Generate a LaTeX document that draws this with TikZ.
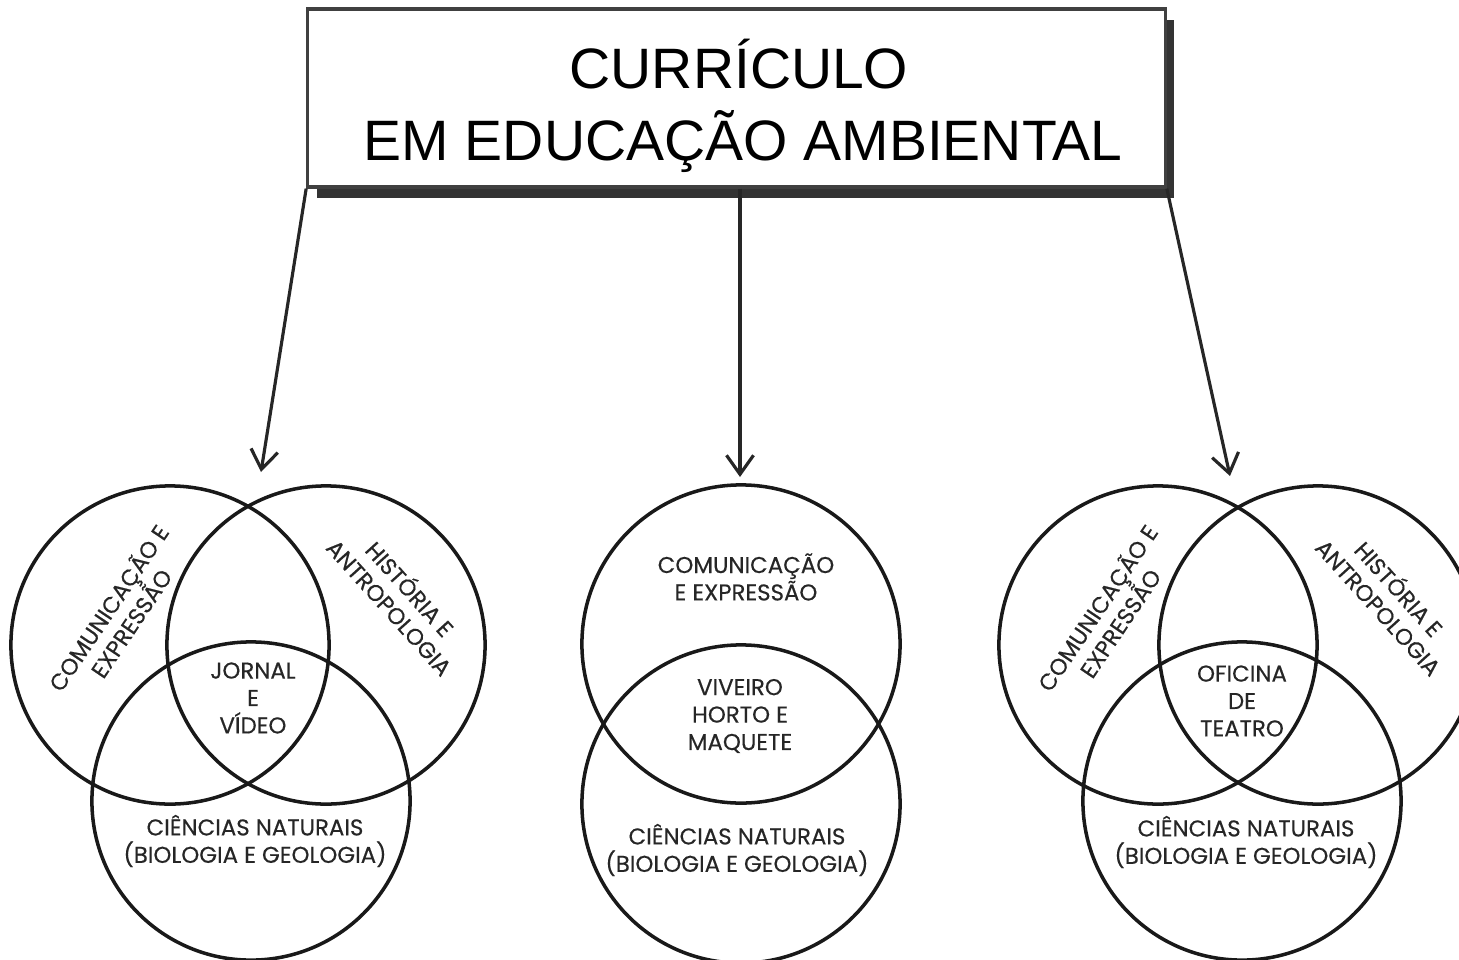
\documentclass[tikz,border=0pt]{standalone}
\usepackage{fontspec}
\setmainfont{Liberation Sans}
\newfontfamily\vennfont{Poppins}[FakeBold=0.4]
\usetikzlibrary{arrows.meta,shadows}

\begin{document}
\begin{tikzpicture}[x=0.01cm,y=-0.01cm,
        titulo/.style={draw=black!75,line width=0.9pt,fill=white,minimum width=8.57cm,minimum height=1.78cm,
            drop shadow={shadow xshift=0.09cm,shadow yshift=-0.11cm,fill=black!80,opacity=1}},
        conjunto/.style={circle,draw=black!90,line width=1pt,minimum size=3.18cm,inner sep=0pt},
        rotulo/.style={font=\vennfont\fontsize{6.5}{7.8}\selectfont,text=black!85,align=center,inner sep=0pt},
        seta/.style={line width=0.9pt,draw=black!85,-{Straight Barb[length=0.19cm,width=0.27cm]}}]
    \useasboundingbox (0,0) rectangle (1459,960);
    % title box
    \node[titulo] (curriculo) at (736.5,98) {};
    \node[font=\fontsize{16.2}{20.5}\selectfont,anchor=base] (linha1) at (739,88) {CURRÍCULO};
    \node[font=\fontsize{16.2}{20.5}\selectfont,anchor=base] (linha2) at (743,160) {EM EDUCAÇÃO AMBIENTAL};
    % left group
    \node[conjunto] (ce1) at (170,645) {};
    \node[conjunto] (ha1) at (326,645) {};
    \node[conjunto] (cn1) at (251,801) {};
    \node[rotulo,rotate=56] at (119,615) {COMUNICAÇÃO E\\EXPRESSÃO};
    \node[rotulo,rotate=-48] at (401,597) {HISTÓRIA E\\ANTROPOLOGIA};
    \node[rotulo] at (253,698) {JORNAL\\E\\VÍDEO};
    \node[rotulo] at (255,841) {CIÊNCIAS NATURAIS\\(BIOLOGIA E GEOLOGIA)};
    % middle group
    \node[conjunto] (ce2) at (741,644) {};
    \node[conjunto] (cn2) at (741,804) {};
    \node[rotulo] at (746,577) {COMUNICAÇÃO\\E EXPRESSÃO};
    \node[rotulo] at (740,716) {VIVEIRO\\HORTO E\\MAQUETE};
    \node[rotulo] at (737,850) {CIÊNCIAS NATURAIS\\(BIOLOGIA E GEOLOGIA)};
    % right group
    \node[conjunto] (ce3) at (1158,645) {};
    \node[conjunto] (ha3) at (1318,645) {};
    \node[conjunto] (cn3) at (1242,801) {};
    \node[rotulo,rotate=56] at (1108,615) {COMUNICAÇÃO E\\EXPRESSÃO};
    \node[rotulo,rotate=-48] at (1390,597) {HISTÓRIA E\\ANTROPOLOGIA};
    \node[rotulo] at (1242,701) {OFICINA\\DE\\TEATRO};
    \node[rotulo] at (1246,842) {CIÊNCIAS NATURAIS\\(BIOLOGIA E GEOLOGIA)};
    % arrows
    \coordinate (alvo1) at (261,472);
    \coordinate (alvo2) at (740,477);
    \coordinate (alvo3) at (1230,476);
    \draw[seta] (curriculo.south west) -- (alvo1);
    \draw[seta] (alvo2 |- curriculo.south) -- (alvo2);
    \draw[seta] (curriculo.south east) -- (alvo3);
\end{tikzpicture}
\end{document}
